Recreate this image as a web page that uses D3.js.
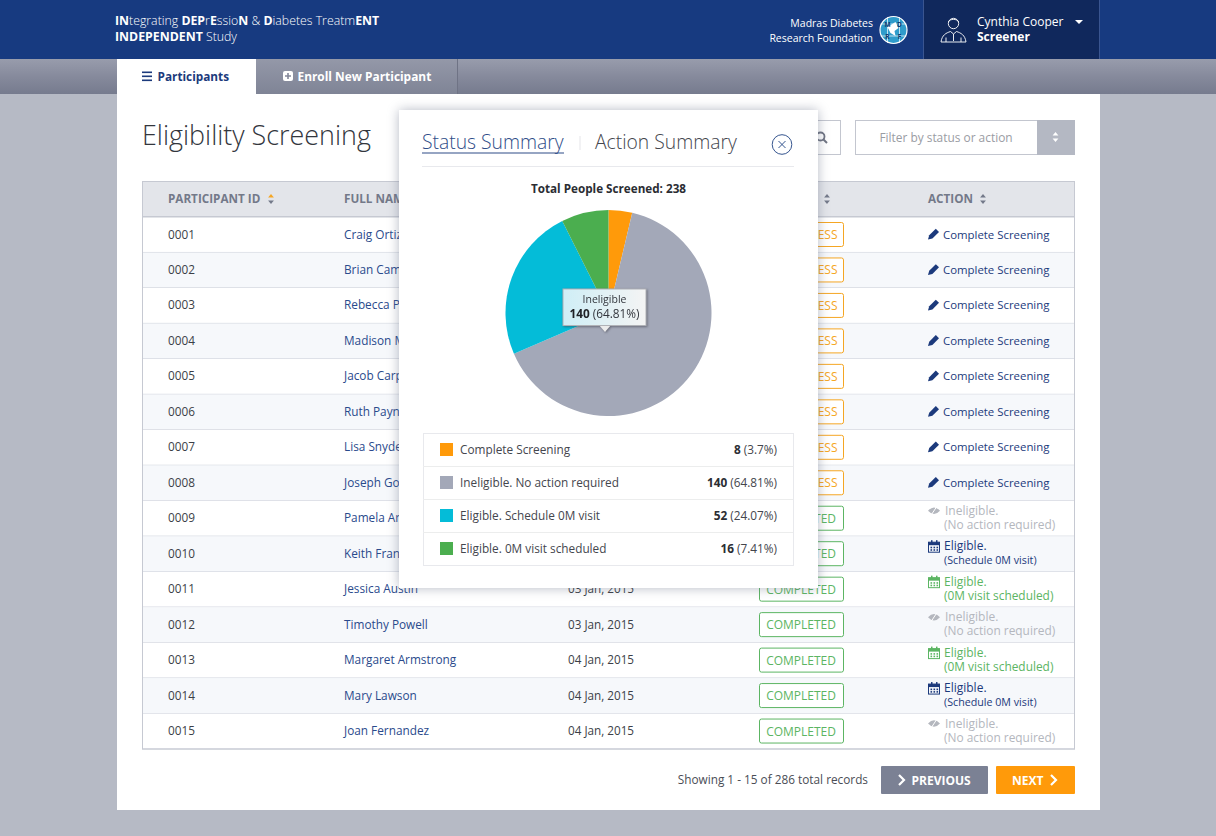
<!DOCTYPE html>
<html>
<head>
<meta charset="utf-8">
<script src="https://cdn.jsdelivr.net/npm/d3@7"></script>
<style>
  html, body { margin: 0; padding: 0; background: #b6bac5; }
  svg { display: block; font-family: "Open Sans", sans-serif; }
</style>
</head>
<body>
<svg id="chart" width="1216" height="836"></svg>
<script>
// table data (null = the cell is fully behind the popup in the picture)
const participantIds = ["0001","0002","0003","0004","0005","0006","0007","0008","0009","0010","0011","0012","0013","0014","0015"];
const fullNames = ["Craig Ortiz","Brian Cam","Rebecca P","Madison M","Jacob Carp","Ruth Payn","Lisa Snyde","Joseph Go","Pamela Ar","Keith Fran","Jessica Austin","Timothy Powell","Margaret Armstrong","Mary Lawson","Joan Fernandez"];
const visitDates = [null,null,null,null,null,null,null,null,null,null,"03 Jan, 2015","03 Jan, 2015","04 Jan, 2015","04 Jan, 2015","04 Jan, 2015"];
const statuses = ["ESS","ESS","ESS","ESS","ESS","ESS","ESS","ESS","TED","TED","COMPLETED","COMPLETED","COMPLETED","COMPLETED","COMPLETED"];
const actions = ["complete","complete","complete","complete","complete","complete","complete","complete","ineligible","schedule","scheduled","ineligible","scheduled","schedule","ineligible"];
const columnTitles = ["PARTICIPANT ID","FULL NAM",null,null,"ACTION"];

// pie data
const pieLabels = ["Complete Screening","Ineligible. No action required","Eligible. Schedule 0M visit","Eligible. 0M visit scheduled"];
const pieValues = [8, 140, 52, 16];
const piePercents = ["3.7%","64.81%","24.07%","7.41%"];
const pieColors = ["#ff9a0a","#a3a8b8","#04bcd8","#4bae4f"];

const navy = "#1c3a7c", textDark = "#3c3f47", green = "#5cb563", orange = "#f5a623", lightGrey = "#b4b7be";

const svg = d3.select("#chart");
const defs = svg.append("defs");

function gradient(id, stops, horizontal) {
  const g = defs.append("linearGradient").attr("id", id)
    .attr("x1", 0).attr("y1", 0).attr("x2", horizontal ? 1 : 0).attr("y2", horizontal ? 0 : 1);
  stops.forEach((s, i) => g.append("stop").attr("offset", i / (stops.length - 1)).attr("stop-color", s));
}
gradient("navGrad", ["#989cac", "#868a9c", "#767b8e"]);
gradient("tabGrad", ["#9498a8", "#7f8496"]);
gradient("tipGrad", ["#cfeef6", "#f4f4f4"], true);

function rect(parent, x, y, w, h, fill, stroke) {
  return parent.append("rect").attr("x", x).attr("y", y).attr("width", w).attr("height", h)
    .attr("fill", fill).attr("stroke", stroke || "none");
}
function label(parent, x, y, str, size, color, weight, anchor) {
  return parent.append("text").attr("x", x).attr("y", y).text(str)
    .attr("font-size", size).attr("fill", color)
    .attr("font-weight", weight || 400).attr("text-anchor", anchor || "start");
}
// text with alternating bold pieces
function mixed(parent, x, y, parts, size, color) {
  const t = parent.append("text").attr("x", x).attr("y", y).attr("font-size", size).attr("fill", color);
  parts.forEach(p => t.append("tspan").attr("font-weight", p[1] ? 700 : 300).text(p[0]));
  return t;
}
function sortArrows(parent, x, y, topColor, bottomColor) {
  const tri = d3.symbol().type(d3.symbolTriangle).size(12);
  parent.append("path").attr("d", tri).attr("fill", topColor)
    .attr("transform", `translate(${x},${y - 2.6}) scale(1.1,0.8)`);
  parent.append("path").attr("d", tri).attr("fill", bottomColor)
    .attr("transform", `translate(${x},${y + 2.6}) scale(1.1,-0.8)`);
}

// page frame
rect(svg, 0, 59, 1216, 35, "url(#navGrad)");
rect(svg, 117, 94, 983, 716, "#ffffff");

// top bar
rect(svg, 0, 0, 1216, 59, "#173a80");
rect(svg, 924, 0, 175, 59, "#10285c");
svg.append("line").attr("x1", 923.5).attr("x2", 923.5).attr("y1", 0).attr("y2", 59).attr("stroke", "#3a5590");
svg.append("line").attr("x1", 1099.5).attr("x2", 1099.5).attr("y1", 0).attr("y2", 59).attr("stroke", "#3a5590");
mixed(svg, 115, 25, [["IN",1],["tegrating ",0],["DEP",1],["r",0],["E",1],["ssio",0],["N",1],[" & ",0],["D",1],["iabetes Treatm",0],["ENT",1]], 12.3, "#ffffff");
mixed(svg, 115, 40.5, [["INDEPENDENT",1],[" Study",0]], 12.3, "#ffffff");
label(svg, 873, 27, "Madras Diabetes", 10.5, "#ffffff", 400, "end");
label(svg, 873, 42, "Research Foundation", 10.5, "#ffffff", 400, "end");

// logo
const logo = svg.append("g").attr("transform", "translate(893.5,30)");
logo.append("circle").attr("r", 13.5).attr("fill", "#2f9ccb").attr("stroke", "#ffffff").attr("stroke-width", 1.2);
[-6, 6].forEach(d => {
  logo.append("line").attr("x1", -13).attr("x2", 13).attr("y1", d).attr("y2", d).attr("stroke", "#ffffff").attr("stroke-width", 0.7);
  logo.append("line").attr("y1", -13).attr("y2", 13).attr("x1", d).attr("x2", d).attr("stroke", "#ffffff").attr("stroke-width", 0.7);
});
logo.append("path").attr("d", "M-6 -3 L2 -8 L5 -2 L1 1 L2 6 L-3 3 Z").attr("fill", "#ffffff");
[[-6,-3,"M"],[6,-3,"D"],[-6,9,"R"],[6,9,"F"]].forEach(p => {
  label(logo, p[0], p[1], p[2], 6.5, "#123a70", 700, "middle");
});

// user
const user = svg.append("g").attr("fill", "none").attr("stroke", "#ffffff").attr("stroke-width", 0.9);
user.append("circle").attr("cx", 953.5).attr("cy", 23.5).attr("r", 5.2);
user.append("path").attr("d", "M948.3 22 C950 18.5 957 18.5 958.7 22");
user.append("path").attr("d", "M941 42 C942 35 946 33 950.5 31.5 L953.5 34 L956.5 31.5 C961 33 965 35 966 42 Z");
user.append("path").attr("d", "M953.5 34 V41 M946 37.5 V42 M961 37.5 V42");
label(svg, 977, 26, "Cynthia Cooper", 12, "#ffffff", 400);
label(svg, 977, 41, "Screener", 12, "#ffffff", 700);
svg.append("path").attr("d", "M1075 20 h8 l-4 4 z").attr("fill", "#ffffff");

// tabs
rect(svg, 117, 59, 139, 35, "#ffffff");
rect(svg, 256, 59, 201, 35, "url(#tabGrad)");
svg.append("line").attr("x1", 457.5).attr("x2", 457.5).attr("y1", 59).attr("y2", 94).attr("stroke", "#6f7385");
[72, 76, 80].forEach(y => rect(svg, 142, y - 0.5, 10, 1.6, navy));
label(svg, 157.5, 80.5, "Participants", 11.8, navy, 700);
svg.append("rect").attr("x", 283).attr("y", 71).attr("width", 10).attr("height", 10).attr("rx", 2).attr("fill", "#ffffff");
svg.append("path").attr("d", "M288 73 v6 M285 76 h6").attr("stroke", "#84889a").attr("stroke-width", 1.6);
label(svg, 297.5, 80.5, "Enroll New Participant", 11.9, "#ffffff", 700);

// title and filters
label(svg, 142, 145, "Eligibility Screening", 26.9, "#33363d", 300);
rect(svg, 700.5, 120.5, 140, 34, "#ffffff", "#c3c6cf");
svg.append("circle").attr("cx", 820.5).attr("cy", 136.5).attr("r", 4).attr("fill", "none").attr("stroke", "#6f7482").attr("stroke-width", 1.8);
svg.append("line").attr("x1", 823.5).attr("y1", 139.5).attr("x2", 827).attr("y2", 143).attr("stroke", "#6f7482").attr("stroke-width", 2);
rect(svg, 855.5, 120.5, 219, 34, "#ffffff", "#c3c6cf");
rect(svg, 1037, 120, 38, 35, "#b4b8c3");
label(svg, 946, 141.5, "Filter by status or action", 11.9, "#9a9ca3", 400, "middle");
sortArrows(svg, 1055.5, 137, "#ffffff", "#ffffff");

// table
const rowScale = d3.scaleBand().domain(participantIds).range([217, 749]);
const colX = [168, 344, 568, 759, 928];

rect(svg, 142.5, 181.5, 932, 35, "#e3e5ea", "#c6c9d2");
columnTitles.forEach((c, i) => {
  if (c) label(svg, colX[i], 203, c, 11.7, "#737989", 700);
  const arrowX = [271, 439, 640, 827, 983][i];
  sortArrows(svg, arrowX, 199, i === 0 ? "#f5a623" : "#737989", "#737989");
});

const rows = svg.append("g").selectAll("g").data(participantIds).join("g")
  .attr("transform", d => `translate(0,${rowScale(d)})`);
const rowH = rowScale.bandwidth();

rows.append("rect").attr("x", 142.5).attr("width", 932).attr("height", rowH)
  .attr("fill", (d, i) => i % 2 ? "#f6f8fb" : "#ffffff");
rows.append("line").attr("x1", 142).attr("x2", 1075).attr("y1", rowH).attr("y2", rowH).attr("stroke", "#c9cdd8");
rows.append("text").attr("x", colX[0]).attr("y", 21.5).attr("font-size", 11.8).attr("fill", textDark).text(d => d);
rows.append("text").attr("x", colX[1]).attr("y", 21.5).attr("font-size", 11.8).attr("fill", "#2a4a8c").text((d, i) => fullNames[i]);
rows.append("text").attr("x", colX[2]).attr("y", 21.5).attr("font-size", 11.7).attr("fill", textDark).text((d, i) => visitDates[i]);

rows.append("rect").attr("x", 759.5).attr("y", 5.5).attr("width", 84).attr("height", 24).attr("rx", 2)
  .attr("fill", "#ffffff").attr("stroke", (d, i) => i < 8 ? orange : green);
rows.append("text").attr("x", (d, i) => i < 8 ? 837.5 : 836).attr("y", 22).attr("text-anchor", "end").attr("font-size", 12)
  .attr("fill", (d, i) => i < 8 ? orange : green).text((d, i) => statuses[i]);

// action cell, drawn according to the action type
rows.each(function (d, i) {
  const g = d3.select(this), a = actions[i];
  if (a === "complete") {
    g.append("path").attr("d", "M928 22.5 l1.2 -4.2 l6.6 -6.6 l3.2 3.2 l-6.6 6.6 z").attr("fill", navy);
    label(g, 943, 21.5, "Complete Screening", 11.4, navy);
    return;
  }
  const color = a === "ineligible" ? lightGrey : a === "schedule" ? navy : green;
  const first = a === "ineligible" ? "Ineligible." : "Eligible.";
  const second = a === "ineligible" ? "(No action required)" : a === "schedule" ? "(Schedule 0M visit)" : "(0M visit scheduled)";
  if (a === "ineligible") {
    g.append("path").attr("d", "M928 10 Q934 3.5 940 10 Q934 16.5 928 10 Z").attr("fill", color);
    g.append("line").attr("x1", 931).attr("y1", 14.5).attr("x2", 937).attr("y2", 5.5).attr("stroke", "#ffffff").attr("stroke-width", 1);
  } else {
    rect(g, 928.5, 6, 11, 10, "none", color);
    rect(g, 928.5, 6, 11, 3, color);
    rect(g, 931, 4, 1.5, 3, color);
    rect(g, 936, 4, 1.5, 3, color);
    [[930.5,10.5],[933.5,10.5],[936.5,10.5],[930.5,13],[933.5,13],[936.5,13]].forEach(p => rect(g, p[0], p[1], 1.6, 1.6, color));
  }
  label(g, a === "ineligible" ? 945 : 944, 14, first, 12, color);
  label(g, 944, 28, second, a === "schedule" ? 10.7 : 11.9, color);
});

rect(svg, 142.5, 217, 932, 532, "none", "#c6c9d2");

// footer
label(svg, 868, 784, "Showing 1 - 15 of 286 total records", 11.8, "#4a4d55", 400, "end");
svg.append("rect").attr("x", 881).attr("y", 766).attr("width", 107).attr("height", 28).attr("rx", 1).attr("fill", "#7b8194");
svg.append("rect").attr("x", 996).attr("y", 766).attr("width", 79).attr("height", 28).attr("rx", 1).attr("fill", "#ff9a0a");
svg.append("path").attr("d", "M899 775 l5 5 l-5 5").attr("fill", "none").attr("stroke", "#ffffff").attr("stroke-width", 2.2);
label(svg, 911.5, 784.5, "PREVIOUS", 12, "#ffffff", 700);
label(svg, 1012, 784.5, "NEXT", 12, "#ffffff", 700);
svg.append("path").attr("d", "M1051 775 l5 5 l-5 5").attr("fill", "none").attr("stroke", "#ffffff").attr("stroke-width", 2.2);

// popup
const popup = svg.append("g");
rect(popup, 399, 110, 419, 478, "#ffffff").style("filter", "drop-shadow(0 0 6px rgba(90,100,125,0.45))");
label(popup, 422, 149, "Status Summary", 19.3, "#2f4d88", 300);
rect(popup, 422, 152.5, 142, 1, "#2f4d88");
rect(popup, 579.5, 136, 1, 14, "#e5e6ea");
label(popup, 595, 149, "Action Summary", 19.3, "#44464d", 300);
popup.append("circle").attr("cx", 782).attr("cy", 144.5).attr("r", 9.8).attr("fill", "none").attr("stroke", "#35558f");
popup.append("path").attr("d", "M778.5 141 l7 7 M785.5 141 l-7 7").attr("stroke", "#35558f");
rect(popup, 422, 166, 372, 1, "#e8e9ed");
label(popup, 608.5, 192.5, "Total People Screened: 238", 11.7, "#2b2d33", 700, "middle");

// pie
const pie = d3.pie().sort(null).value(d => d);
const arc = d3.arc().innerRadius(0).outerRadius(103);
popup.append("g").attr("transform", "translate(608.5,313)")
  .selectAll("path").data(pie(pieValues)).join("path")
  .attr("d", arc).attr("fill", (d, i) => pieColors[i]);

// tooltip
const tip = popup.append("g").style("filter", "drop-shadow(1px 1px 1px rgba(60,60,70,0.55))");
tip.append("path").attr("d", "M599 325 L605 332 L611 325 Z").attr("fill", "#ececec");
rect(tip, 563, 289, 83, 36.5, "url(#tipGrad)", "#b0b2b7");
label(tip, 604.5, 303, "Ineligible", 10.5, "#33363d", 400, "middle");
const tipValue = tip.append("text").attr("x", 604.5).attr("y", 318).attr("text-anchor", "middle").attr("font-size", 11.8).attr("fill", "#33363d");
tipValue.append("tspan").attr("font-weight", 700).attr("fill", "#1f2126").text(pieValues[1]);
tipValue.append("tspan").text(` (${piePercents[1]})`);

// legend table
const legendScale = d3.scaleBand().domain(pieLabels).range([433, 565]);
rect(popup, 423.5, 433.5, 370, 132, "#ffffff", "#e8e9ed");
const legendRows = popup.append("g").selectAll("g").data(pieLabels).join("g")
  .attr("transform", d => `translate(0,${legendScale(d)})`);
legendRows.filter((d, i) => i > 0).append("line").attr("x1", 423).attr("x2", 793).attr("y1", 0.5).attr("y2", 0.5).attr("stroke", "#eceded");
legendRows.append("rect").attr("x", 440).attr("y", 10).attr("width", 13).attr("height", 13).attr("fill", (d, i) => pieColors[i]);
legendRows.append("text").attr("x", 460).attr("y", 21).attr("font-size", 11.8).attr("fill", "#44464d").text(d => d);
const legendValue = legendRows.append("text").attr("x", 777).attr("y", 21).attr("text-anchor", "end").attr("font-size", 11.8).attr("fill", "#44464d");
legendValue.append("tspan").attr("font-weight", 700).attr("fill", "#2b2d33").text((d, i) => pieValues[i]);
legendValue.append("tspan").text((d, i) => ` (${piePercents[i]})`);
</script>
</body>
</html>
